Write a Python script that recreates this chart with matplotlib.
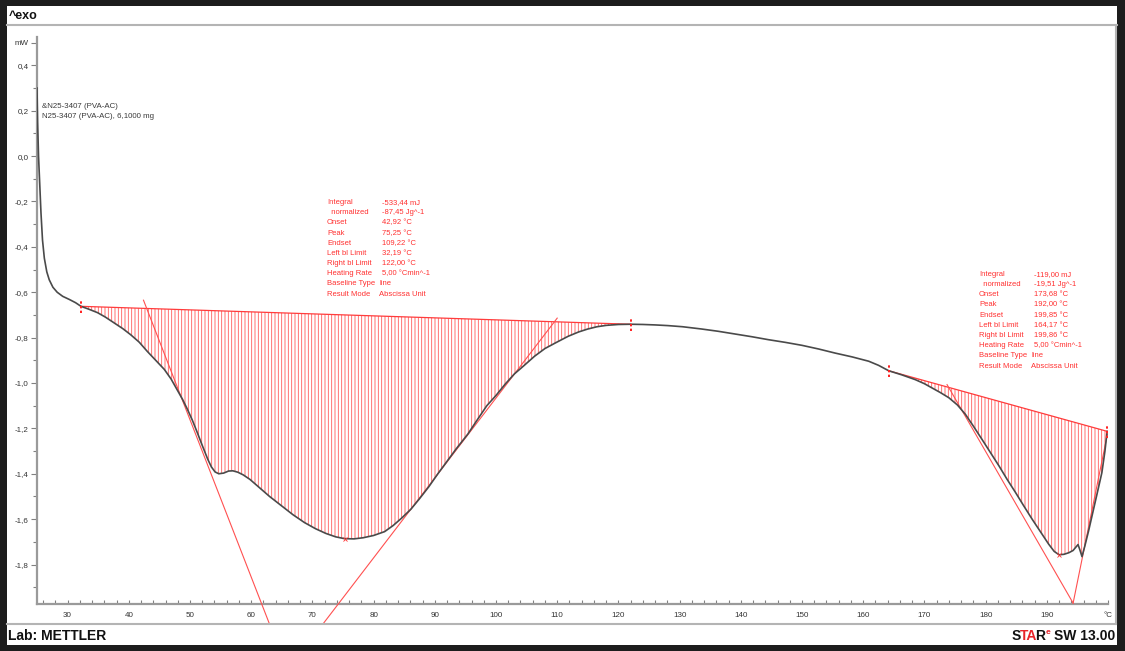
import numpy as np
import matplotlib
matplotlib.use("Agg")
import matplotlib.pyplot as plt
from matplotlib.patches import Rectangle
from matplotlib.lines import Line2D
from matplotlib.ticker import FixedLocator

# ---------------- data ----------------
temp_c = [25.0, 25.1, 25.25, 25.45, 25.65, 25.9, 26.2, 26.6, 27.0, 27.6, 28.3, 29.2,
          30.3, 31.3, 32.19, 33.5, 34.9, 36.2, 37.6, 39.0, 40.3, 41.7, 43.0, 44.4,
          45.8, 46.9, 47.9, 48.8, 49.6, 50.4, 51.2, 52.0, 52.9, 53.5, 54.1, 54.7,
          55.5, 56.3, 57.0, 57.8, 58.7, 59.8, 61.0, 63.0, 64.9, 66.8, 68.7, 70.5,
          72.2, 73.8, 75.25, 76.8, 78.3, 80.0, 81.8, 83.2, 84.6, 86.1, 87.5, 89.0,
          90.5, 92.0, 93.5, 95.4, 97.0, 98.5, 100.0, 101.5, 103.0, 104.5, 106.3,
          108.0, 109.8, 111.8, 113.5, 115.0, 116.5, 118.0, 120.0, 122.0, 124.0,
          126.0, 128.1, 130.5, 133.6, 136.3, 139.0, 141.8, 144.5, 147.3, 150.0,
          152.7, 155.4, 158.2, 160.9, 162.5, 164.17, 166.3, 168.5, 170.0, 171.2,
          172.6, 174.0, 175.4, 176.7, 178.0, 179.4, 180.8, 182.2, 183.5, 184.9,
          186.2, 187.6, 189.0, 190.3, 191.2, 192.0, 192.8, 193.6, 194.3, 194.8,
          195.1, 195.4, 195.75, 196.2, 196.8, 197.4, 198.2, 199.0, 199.5, 199.86]
heat_flow_mw = [0.30, 0.15, 0.0, -0.13, -0.25, -0.37, -0.45, -0.51, -0.545, -0.578,
                -0.60, -0.618, -0.632, -0.646, -0.662, -0.675, -0.69, -0.71, -0.735,
                -0.76, -0.787, -0.82, -0.86, -0.90, -0.94, -0.982, -1.03, -1.073,
                -1.117, -1.165, -1.219, -1.275, -1.336, -1.37, -1.392, -1.400,
                -1.397, -1.388, -1.387, -1.393, -1.405, -1.425, -1.453, -1.50, -1.54,
                -1.58, -1.615, -1.642, -1.663, -1.678, -1.686, -1.687, -1.682, -1.672,
                -1.655, -1.628, -1.595, -1.556, -1.51, -1.458, -1.40, -1.345, -1.29,
                -1.225, -1.16, -1.10, -1.055, -1.005, -0.96, -0.925, -0.882, -0.848,
                -0.822, -0.794, -0.775, -0.762, -0.752, -0.746, -0.742, -0.741,
                -0.742, -0.744, -0.747, -0.752, -0.762, -0.772, -0.784, -0.796,
                -0.809, -0.821, -0.834, -0.850, -0.868, -0.885, -0.904, -0.922,
                -0.946, -0.964, -0.985, -1.003, -1.021, -1.042, -1.065, -1.097,
                -1.138, -1.19, -1.248, -1.307, -1.366, -1.424, -1.483, -1.54, -1.60,
                -1.657, -1.71, -1.742, -1.757, -1.755, -1.748, -1.738, -1.722,
                -1.712, -1.735, -1.765, -1.72, -1.655, -1.585, -1.49, -1.395, -1.30,
                -1.213]

# integration baselines (left/right limits)
base1_x = [32.19, 122.00]
base1_y = [-0.662, -0.741]
base2_x = [164.17, 199.86]
base2_y = [-0.946, -1.213]

# tangent (onset / endset) construction lines
tan1_x = [42.4, 63.0]
tan1_y = [-0.635, -2.063]
tan2_x = [71.7, 110.0]
tan2_y = [-2.063, -0.714]
tan3_x = [173.7, 194.3]
tan3_y = [-1.007, -1.97]
tan4_x = [194.3, 199.9]
tan4_y = [-1.97, -1.226]

peaks_x = [75.25, 192.0]
peaks_y = [-1.686, -1.757]

x_major = [30, 40, 50, 60, 70, 80, 90, 100, 110, 120, 130, 140, 150, 160, 170, 180, 190, 200]
y_major = [-1.8, -1.6, -1.4, -1.2, -1.0, -0.8, -0.6, -0.4, -0.2, 0.0, 0.2, 0.4, 0.5]

sample_lines = ["&N25-3407 (PVA-AC)", "N25-3407 (PVA-AC), 6,1000 mg"]

res_labels = ["Integral", "  normalized", "Onset", "Peak", "Endset", "Left bl Limit",
              "Right bl Limit", "Heating Rate", "Baseline Type", "Result Mode"]
res1_values = ["-533,44 mJ", "-87,45 Jg^-1", "42,92 °C", "75,25 °C", "109,22 °C",
               "32,19 °C", "122,00 °C", "5,00 °Cmin^-1", "line", "Abscissa Unit"]
res2_values = ["-119,00 mJ", "-19,51 Jg^-1", "173,68 °C", "192,00 °C", "199,85 °C",
               "164,17 °C", "199,86 °C", "5,00 °Cmin^-1", "line", "Abscissa Unit"]

# ---------------- figure ----------------
W, H = 1125, 651
plt.rcParams['hatch.linewidth'] = 0.6
fig = plt.figure(figsize=(W / 100, H / 100), dpi=100, facecolor='#1d1d1d')


def fx(px):
    return px / W


def fy(py):
    return 1 - py / H


fig.add_artist(Rectangle((fx(7), fy(645)), fx(1117) - fx(7), fy(6) - fy(645),
                         transform=fig.transFigure, facecolor='white', edgecolor='none', zorder=0))
frame_kw = dict(transform=fig.transFigure, color='#b4b4b4', lw=1.5, zorder=1)
fig.add_artist(Line2D([fx(7), fx(1117)], [fy(25), fy(25)], **frame_kw))
fig.add_artist(Line2D([fx(1115.5), fx(1115.5)], [fy(25), fy(624)], **frame_kw))
fig.add_artist(Line2D([fx(7), fx(1115.5)], [fy(624), fy(624)], **frame_kw))

fig.text(fx(9), fy(16), "^exo", fontsize=9, fontweight='bold', family='Liberation Sans',
         va='center', ha='left', color='#111111')
fig.text(fx(8), fy(636), "Lab: METTLER", fontsize=10, fontweight='bold',
         family='Liberation Sans', va='center', ha='left', color='#111111')

ax = fig.add_axes([fx(37), fy(604), fx(1108) - fx(37), fy(37) - fy(604)])
ax.set_facecolor('none')
ax.set_xlim(25, 200)
ax.set_ylim(-1.974, 0.525)

T = np.array(temp_c)
Y = np.array(heat_flow_mw)

# hatched integration areas
for bx, by in ((base1_x, base1_y), (base2_x, base2_y)):
    m = (T >= bx[0] - 1e-9) & (T <= bx[1] + 1e-9)
    xs = T[m]
    ys = Y[m]
    bl = np.interp(xs, bx, by)
    ax.fill_between(xs, ys, bl, facecolor='none', edgecolor='#ff5a5a', linewidth=0,
                    hatch='|||||', zorder=2)
    ax.plot(bx, by, color='#ff3c3c', lw=0.9, zorder=3)
    ax.vlines(bx, np.array(by) - 0.028, np.array(by) + 0.028, colors='#ff2020',
              linestyles=(0, (1.2, 1.2)), lw=1.4, zorder=5)

for tx, ty in ((tan1_x, tan1_y), (tan2_x, tan2_y), (tan3_x, tan3_y), (tan4_x, tan4_y)):
    ax.plot(tx, ty, color='#ff5050', lw=0.8, zorder=3, clip_on=False)

ax.plot(T, Y, color='#4a4a4a', lw=1.2, zorder=4, solid_joinstyle='round')
ax.plot(peaks_x, peaks_y, ls='none', marker='x', ms=3, mew=0.6, color='#ff3030', zorder=5)

# axes styling
for s in ('top', 'right'):
    ax.spines[s].set_visible(False)
for s in ('left', 'bottom'):
    ax.spines[s].set_color('#9a9a9a')
    ax.spines[s].set_linewidth(1.6)

ax.xaxis.set_major_locator(FixedLocator(x_major))
ax.xaxis.set_minor_locator(FixedLocator(np.arange(26, 200, 2)))
ax.set_xticklabels([str(v) for v in x_major[:-1]] + ["°C"])
ax.yaxis.set_major_locator(FixedLocator(y_major))
ax.yaxis.set_minor_locator(FixedLocator(np.round(np.arange(-1.9, 0.45, 0.2), 2)))


def yfmt(v):
    if abs(v - 0.5) < 1e-9:
        return "mW"
    s = f"{v:.1f}".replace('.', ',')
    return "0,0" if s in ("-0,0",) else s


ax.set_yticklabels([yfmt(v) for v in y_major])
ax.tick_params(axis='x', which='both', direction='in', length=3, width=0.8, color='#808080',
               pad=6, labelsize=5.8, labelcolor='#333333')
ax.tick_params(axis='y', which='major', direction='out', length=4, width=0.8, color='#808080',
               pad=2, labelsize=5.8, labelcolor='#333333')
ax.tick_params(axis='y', which='minor', direction='out', length=3, width=0.8, color='#808080')
for lab in ax.get_xticklabels() + ax.get_yticklabels():
    lab.set_family('Liberation Sans')

# sample name
for i, s in enumerate(sample_lines):
    fig.text(fx(42), fy(107 + 10 * i), s, fontsize=5.7, family='Liberation Sans',
             color='#3a3a3a', va='center', ha='left')

# result blocks
red = '#ff3030'
for i, (lab, val) in enumerate(zip(res_labels, res1_values)):
    y = 202.7 + 10.15 * i
    fig.text(fx(327), fy(y), lab, fontsize=5.5, family='Liberation Sans', color=red,
             va='center', ha='left')
    vx = 379 if i >= 8 else 382
    fig.text(fx(vx), fy(y), val, fontsize=5.5, family='Liberation Sans', color=red,
             va='center', ha='left')
for i, (lab, val) in enumerate(zip(res_labels, res2_values)):
    y = 274.3 + 10.2 * i
    fig.text(fx(979), fy(y), lab, fontsize=5.5, family='Liberation Sans', color=red,
             va='center', ha='left')
    vx = 1031 if i >= 8 else 1034
    fig.text(fx(vx), fy(y), val, fontsize=5.5, family='Liberation Sans', color=red,
             va='center', ha='left')

# STARe SW 13.00 logo: right part first, then the coloured letters to its left
renderer = fig.canvas.get_renderer()
fkw = dict(fontweight='bold', family='Liberation Sans', va='center')
t_sw = fig.text(fx(1115), fy(636), "SW 13.00", fontsize=10, color='#111111', ha='right', **fkw)
x_sw = t_sw.get_window_extent(renderer).x0
t_e = fig.text((x_sw - 3) / W, fy(632), "e", fontsize=6, color='#e8242a', ha='right', **fkw)
x_e = t_e.get_window_extent(renderer).x0
t_r = fig.text((x_e - 0.5) / W, fy(636), "R", fontsize=10, color='#111111', ha='right', **fkw)
x_r = t_r.get_window_extent(renderer).x0
t_ta = fig.text((x_r + 2.0) / W, fy(636), "TA", fontsize=10, color='#e8242a', ha='right', **fkw)
x_ta = t_ta.get_window_extent(renderer).x0
fig.text((x_ta + 1.0) / W, fy(636), "S", fontsize=10, color='#111111', ha='right', **fkw)

fig.savefig("out.png", dpi=100, facecolor=fig.get_facecolor())
